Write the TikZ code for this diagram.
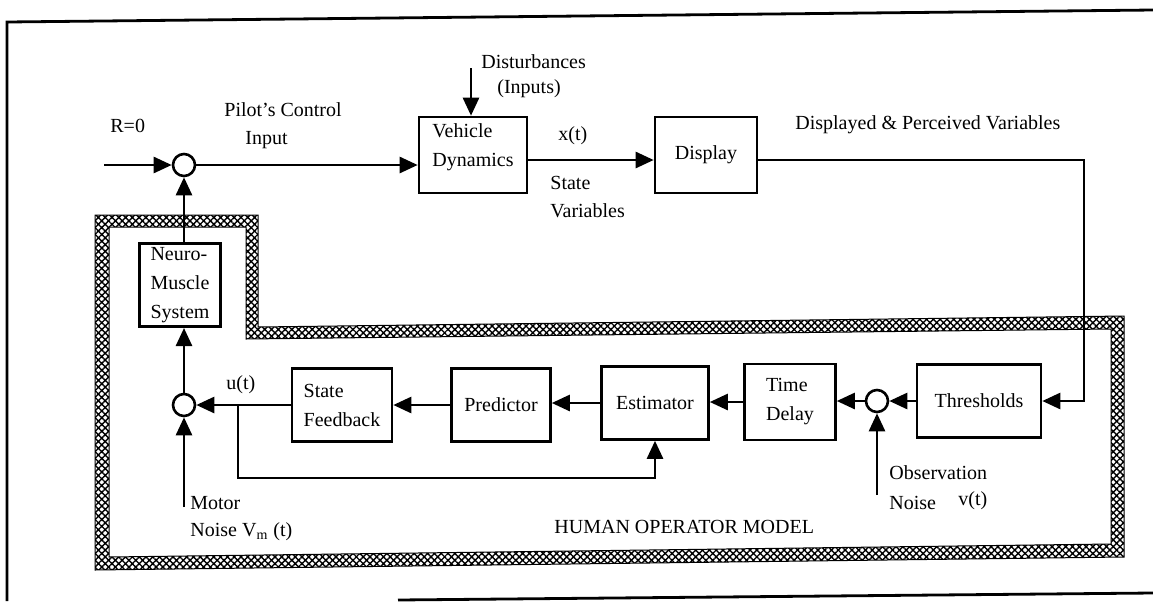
\documentclass[tikz,border=0pt]{standalone}
\usepackage{fontspec}
\setmainfont{Liberation Serif}
\usetikzlibrary{arrows.meta,positioning,patterns.meta}

\begin{document}
\begin{tikzpicture}[x=0.5pt,y=-0.5pt,
    every node/.style={font=\fontsize{10}{14.5}\selectfont},
    blk/.style={draw,line width=1.3pt,inner sep=2pt,align=left},
    sumpt/.style={draw,circle,line width=1.3pt,minimum size=11pt,inner sep=0pt},
    sig/.style={line width=1.3pt,-{Triangle[length=9pt,width=8pt]}},
    frameline/.style={line width=1.4pt},
    lbl/.style={anchor=west,inner sep=0pt},
    hatchband/.style={pattern={Hatch[angle=45,distance=2.4pt,line width=0.7pt]},even odd rule}]
            \useasboundingbox (0,0) rectangle (1153,601);
            % outer frame
            \draw[frameline] (1153,10) -- (7,22) -- (7,601);
            \draw[frameline] (398,600) -- (1153,593);
            % human operator region
            \fill[hatchband] (95,215) -- (258,215) -- (258,327) -- (1124,316) -- (1124,557) -- (95,570) -- cycle
                (109,227) -- (246,227) -- (246,339) -- (1111,329) -- (1111,544) -- (109,557) -- cycle;
            \draw[line width=0.5pt] (95,215) -- (258,215) -- (258,327) -- (1124,316) -- (1124,557) -- (95,570) -- cycle;
            \draw[line width=0.5pt] (109,227) -- (246,227) -- (246,339) -- (1111,329) -- (1111,544) -- (109,557) -- cycle;
            % blocks
            \node[blk,minimum width=54pt,minimum height=38pt] (vd) at (473,155) {Vehicle\\Dynamics\\[-5pt]~};
            \node[blk,minimum width=51pt,minimum height=38pt] (disp) at (706,155) {Display};
            \node[blk,minimum width=40.5pt,minimum height=41pt] (nm) at (180,285) {Neuro-\\Muscle\\System};
            \node[blk,minimum width=50pt,minimum height=36.5pt] (sf) at (342,405) {State\\Feedback};
            \node[blk,minimum width=49.5pt,minimum height=36.5pt] (pred) at (501,405) {Predictor};
            \node[blk,minimum width=53.5pt,minimum height=36.5pt] (est) at (655,403) {Estimator};
            \node[blk,minimum width=45.5pt,minimum height=38pt] (td) at (790,402) {Time\\Delay};
            \node[blk,minimum width=62pt,minimum height=36.5pt] (thr) at (979,401) {Thresholds};
            % summing points
            \node[sumpt] (c1) at (184,165) {};
            \node[sumpt] (c2) at (877,401) {};
            \node[sumpt] (c3) at (184,405) {};
            % free ends
            \coordinate (rin) at (104,165);
            \coordinate (dist) at (471,68);
            \coordinate (turn) at (1084,160);
            \coordinate (obs) at (877,495);
            \coordinate (mot) at (184,507);
            \coordinate (br) at (238,405);
            \coordinate (brlow) at (238,478);
            % signal paths
            \draw[sig] (rin) -- (c1);
            \draw[sig] (c1) -- (c1 -| vd.west);
            \draw[sig] (dist) -- (dist |- vd.north);
            \draw[sig] (vd.east |- turn) -- (disp.west |- turn);
            \draw[sig] (disp.east |- turn) -- (turn) |- (thr.east);
            \draw[sig] (thr.west) -- (c2);
            \draw[sig] (obs) -- (c2);
            \draw[sig] (c2) -- (c2 -| td.east);
            \draw[sig] (td.west) -- (td.west -| est.east);
            \draw[sig] (est.west) -- (est.west -| pred.east);
            \draw[sig] (pred.west) -- (sf.east);
            \draw[sig] (sf.west) -- (c3);
            \draw[sig] (br) |- (est.south |- brlow) -- (est.south);
            \draw[sig] (mot) -- (c3);
            \draw[sig] (c3) -- (c3 |- nm.south);
            \draw[sig] (c1 |- nm.north) -- (c1);
            % labels
            \node[lbl] (rlab) at (110,126) {R=0};
            \node[lbl] (pci) at (224,110) {Pilot's Control};
            \node[lbl] (pin) at (245,140) {Input};
            \node[lbl] (dlab) at (481,62) {Disturbances};
            \node[lbl] (dinp) at (497,89) {(Inputs)};
            \node[lbl] (xlab) at (558,136) {x(t)};
            \node[lbl] (svar) at (550,183) {State};
            \node[lbl] (svar2) at (550,211) {Variables};
            \node[lbl] (dpv) at (795,125) {Displayed \& Perceived Variables};
            \node[lbl] (ulab) at (226,385) {u(t)};
            \node[lbl] (mlab) at (190,503) {Motor};
            \node[lbl] (mnoise) at (190,532) {Noise V\textsubscript{m} (t)};
            \node[lbl] (olab) at (889,473) {Observation};
            \node[lbl] (onoise) at (889,503) {Noise};
            \node[lbl] (vlab) at (958,501) {v(t)};
            \node[lbl] (hom) at (554,527) {HUMAN OPERATOR MODEL};
        \end{tikzpicture}
\end{document}
